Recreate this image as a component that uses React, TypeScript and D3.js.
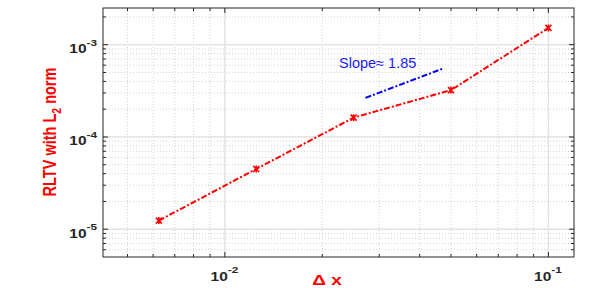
import * as d3 from "d3";

const dx = [0.00625, 0.0125, 0.025, 0.05, 0.1];
const errL2 = [1.24e-5, 4.5e-5, 1.62e-4, 3.22e-4, 1.52e-3];
const slopeX = [0.0272, 0.047];
const slopeY = [2.65e-4, 5.48e-4];
const slopeText = "Slope\u2248 1.85";
const xMajor = [0.01, 0.1];
const yMajor = [1e-5, 1e-4, 1e-3];

const W = 615;
const H = 300;
const L = 103;
const R = 574;
const T = 8;
const B = 257;
const SX = 1.24; // labels look a bit wider than tall in the original

const x = d3.scaleLog().domain([0.0042, 0.12]).range([L, R]);
const y = d3.scaleLog().domain([5e-6, 2.5e-3]).range([B, T]);

const minorOf = (s: d3.ScaleLogarithmic<number, number>) => {
  const [a, b] = s.domain();
  const out: number[] = [];
  for (let e = Math.floor(Math.log10(a)); e <= Math.ceil(Math.log10(b)); e++) {
    for (let m = 1; m < 10; m++) {
      const v = m * Math.pow(10, e);
      if (v >= a && v <= b) out.push(v);
    }
  }
  return out;
};

const xMinor = minorOf(x);
const yMinor = minorOf(y);
const exp = (v: number) => String(Math.round(Math.log10(v)));

const axisCol = "#262626";
const font = "'Liberation Sans', Arial, Helvetica, sans-serif";

export default function App() {
  const line = d3
    .line<number>()
    .x((_, i) => x(dx[i]))
    .y((d) => y(d));

  const slope = d3
    .line<number>()
    .x((_, i) => x(slopeX[i]))
    .y((d) => y(d));

  return (
    <svg
      width={W}
      height={H}
      style={{ position: "absolute", left: 0, top: 0, background: "#fff" }}
      fontFamily={font}
    >
      <rect x={L} y={T} width={R - L} height={B - T} fill="#fff" />
      {/* minor grid */}
      {xMinor.map((v, i) => (
        <line key={"gx" + i} x1={x(v)} x2={x(v)} y1={T} y2={B} stroke="#c8c8c8" strokeWidth={0.8} strokeDasharray="1,2" />
      ))}
      {yMinor.map((v, i) => (
        <line key={"gy" + i} y1={y(v)} y2={y(v)} x1={L} x2={R} stroke="#c8c8c8" strokeWidth={0.8} strokeDasharray="1,2" />
      ))}
      {/* major grid */}
      {xMajor.map((v, i) => (
        <line key={"Gx" + i} x1={x(v)} x2={x(v)} y1={T} y2={B} stroke="#e2e2e2" strokeWidth={1.3} />
      ))}
      {yMajor.map((v, i) => (
        <line key={"Gy" + i} y1={y(v)} y2={y(v)} x1={L} x2={R} stroke="#e2e2e2" strokeWidth={1.3} />
      ))}

      {/* ticks */}
      {xMinor.map((v, i) => {
        const len = xMajor.includes(v) ? 5 : 3;
        return (
          <g key={"tx" + i} stroke={axisCol} strokeWidth={1}>
            <line x1={x(v)} x2={x(v)} y1={B} y2={B - len} />
            <line x1={x(v)} x2={x(v)} y1={T} y2={T + len} />
          </g>
        );
      })}
      {yMinor.map((v, i) => {
        const len = yMajor.includes(v) ? 5 : 3;
        return (
          <g key={"ty" + i} stroke={axisCol} strokeWidth={1}>
            <line y1={y(v)} y2={y(v)} x1={L} x2={L + len} />
            <line y1={y(v)} y2={y(v)} x1={R} x2={R - len} />
          </g>
        );
      })}
      <rect x={L} y={T} width={R - L} height={B - T} fill="none" stroke={axisCol} strokeWidth={1} />

      {/* tick labels */}
      {xMajor.map((v, i) => (
        <text
          key={"lx" + i}
          transform={`translate(${x(v) - 0.5},280.5) scale(${SX},1)`}
          textAnchor="middle"
          fontSize={12.5}
          fontWeight="bold"
          fill={axisCol}
        >
          10<tspan dy={-7.5} fontSize={9.5}>{exp(v)}</tspan>
        </text>
      ))}
      {yMajor.map((v, i) => (
        <text
          key={"ly" + i}
          transform={`translate(97,${y(v) + 8.3}) scale(${SX},1)`}
          textAnchor="end"
          fontSize={12.5}
          fontWeight="bold"
          fill={axisCol}
        >
          10<tspan dy={-7.5} fontSize={9.5}>{exp(v)}</tspan>
        </text>
      ))}

      {/* data */}
      <path d={line(errL2) ?? ""} fill="none" stroke="#ff0000" strokeWidth={2} strokeDasharray="6,2,2,2" />
      {errL2.map((v, i) => (
        <path
          key={"m" + i}
          transform={`translate(${x(dx[i])},${y(v)})`}
          d="M-3,-3L3,3M-3,3L3,-3M0,-3.5L0,3.5"
          stroke="#ff0000"
          strokeWidth={1.6}
        />
      ))}
      <path d={slope(slopeY) ?? ""} fill="none" stroke="#0000ff" strokeWidth={2} strokeDasharray="6,2,2,2" />
      <text x={339} y={68} fontSize={14.5} fill="#1a1aff">
        {slopeText}
      </text>

      {/* axis labels */}
      <text
        transform={`translate(327,285) scale(${SX},1)`}
        textAnchor="middle"
        fontSize={15.4}
        fontWeight="bold"
        fill="#ff0000"
      >
        Δ x
      </text>
      <text
        transform={`translate(56,132) scale(${SX},1) rotate(-90)`}
        textAnchor="middle"
        fontSize={14.5}
        fontWeight="bold"
        fill="#ff0000"
      >
        RLTV with L<tspan dy={4} fontSize={10.5}>2</tspan>
        <tspan dy={-4}> norm</tspan>
      </text>
    </svg>
  );
}
